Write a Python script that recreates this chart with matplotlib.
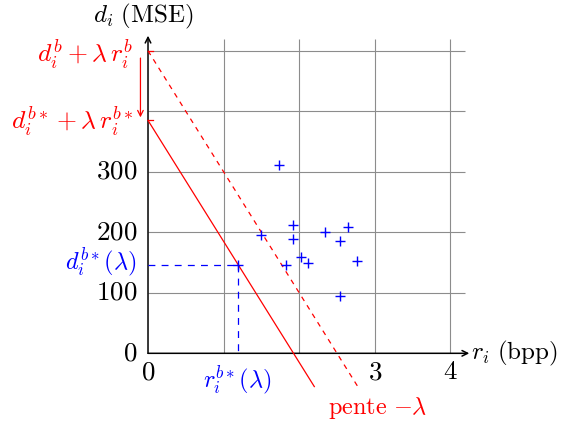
import matplotlib
matplotlib.use("Agg")
import matplotlib.pyplot as plt

plt.rcParams['mathtext.fontset'] = 'cm'

# nuage de points (r_i en bpp, d_i en MSE)
rates = [1.73, 1.92, 2.65, 2.34, 1.50, 1.92, 2.54, 2.02, 2.12, 2.76, 1.82, 2.54]
dists = [312, 212, 208, 201, 196, 189, 185, 159, 150, 153, 146, 94]
# point optimal
r_star = 1.19
d_star = 146
# droites de pente -lambda
lam = 200
j_b = 500
j_star = 385
r_end_b = 2.8
r_end_star = 2.2

xticks = [0, 3, 4]
yticks = [0, 100, 200, 300]
xgrid = [1, 2, 3, 4]
ygrid = [100, 200, 300, 400, 500]

fs = 19.5
fig = plt.figure(figsize=(5.68, 4.25), dpi=100)
ax = fig.add_axes([0, 0, 1, 1])
ax.set_xlim(-1.958, 5.556)
ax.set_ylim(-118.5, 584)
ax.axis('off')

# grille
ax.hlines(ygrid, 0, 4.2, color='#8c8c8c', lw=0.8, zorder=1)
ax.vlines(xgrid, 0, 520, color='#8c8c8c', lw=0.8, zorder=1)

# axes avec fleches
ax.annotate('', xy=(4.25, 0), xytext=(0, 0),
            arrowprops=dict(arrowstyle='->', color='black', lw=1.1, shrinkA=0, shrinkB=0))
ax.annotate('', xy=(0, 525), xytext=(0, 0),
            arrowprops=dict(arrowstyle='->', color='black', lw=1.1, shrinkA=0, shrinkB=0))

for t in xticks:
    ax.text(t, -31, r'$%d$' % t, ha='center', va='center', fontsize=fs)
for t in yticks:
    ax.text(-0.146, t, r'$%d$' % t, ha='right', va='center', fontsize=fs)

ax.text(-0.066, 557, r'$d_i\ \mathrm{(MSE)}$', ha='center', va='center', fontsize=18)
ax.text(4.27, 0, r'$r_i\ \mathrm{(bpp)}$', ha='left', va='center', fontsize=18)

# droites
ax.plot([0, r_end_b], [j_b, j_b - lam * r_end_b], color='red', lw=0.9,
        dashes=(4, 4), zorder=3)
ax.plot([0, r_end_star], [j_star, j_star - lam * r_end_star], color='red', lw=0.9, zorder=3)
ax.plot([0, 0.06], [j_b, j_b], color='red', lw=0.9, zorder=3)
ax.plot([0, 0.06], [j_star, j_star], color='red', lw=0.9, zorder=3)
ax.annotate('', xy=(-0.1, j_star + 5), xytext=(-0.1, j_b - 12),
            arrowprops=dict(arrowstyle='->', color='red', lw=0.9, shrinkA=0, shrinkB=0))

ax.text(-0.2, 493, r'$d_i^b + \lambda\, r_i^b$', color='red', ha='right', va='center', fontsize=18.5)
ax.text(-0.2, 382, r'$d_i^{b*} + \lambda\, r_i^{b*}$', color='red', ha='right', va='center', fontsize=18.5)
ax.text(3.04, -90, r'$\mathrm{pente}\ {-\lambda}$', color='red', ha='center', va='center', fontsize=17.5)

# points
ax.plot(rates, dists, '+', color='blue', ms=7, mew=1.0, zorder=4)
ax.plot([r_star], [d_star], '+', color='blue', ms=7, mew=1.0, zorder=4)
ax.plot([0, r_star], [d_star, d_star], color='blue', lw=0.9, dashes=(5.5, 5), zorder=3)
ax.plot([r_star, r_star], [d_star, 0], color='blue', lw=0.9, dashes=(5.5, 5), zorder=3)
ax.text(-0.146, 150, r'$d_i^{b*}(\lambda)$', color='blue', ha='right', va='center', fontsize=17.5)
ax.text(1.18, -44, r'$r_i^{b*}(\lambda)$', color='blue', ha='center', va='center', fontsize=17.5)

fig.savefig('out.png', dpi=100)
